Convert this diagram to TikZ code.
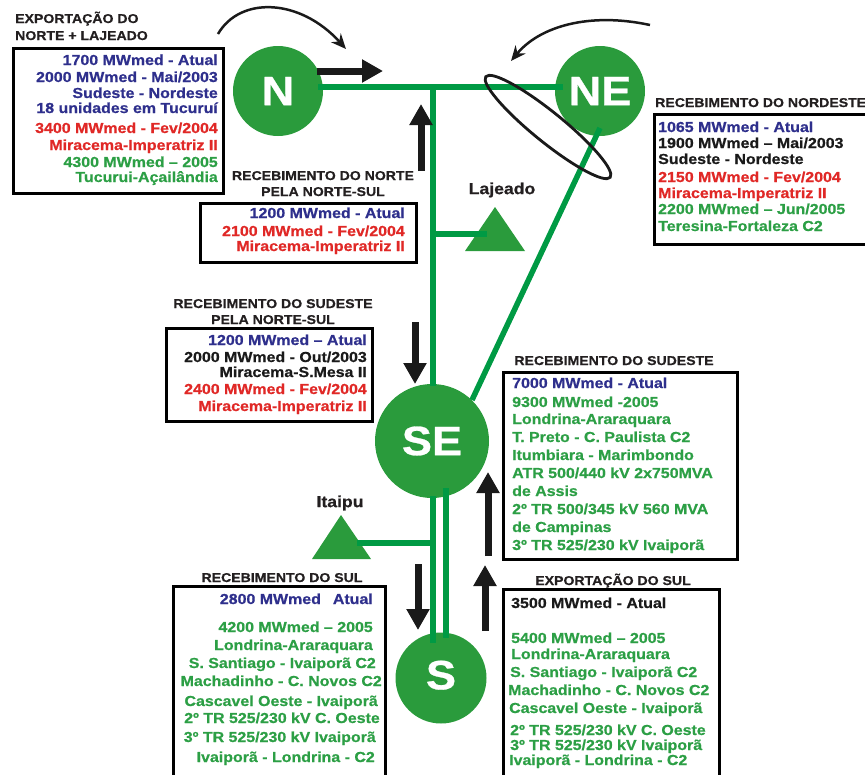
\documentclass[tikz,border=0pt]{standalone}
\usepackage{fontspec}
\setmainfont{Liberation Sans}[FakeStretch=1.1, BoldFeatures={FakeBold=0.7}]
\usepackage{pdfrender}
\usetikzlibrary{arrows.meta,shapes.geometric}
\definecolor{navy}{HTML}{2E2F8C}
\definecolor{redtxt}{HTML}{E02826}
\definecolor{greentxt}{HTML}{2C9F45}
\definecolor{hubgreen}{HTML}{2A9B3C}
\definecolor{wiregreen}{HTML}{009A44}
\definecolor{inkblack}{HTML}{1A1A1A}
\definecolor{titleblack}{HTML}{231F20}
\newcommand\hublabel[1]{\textpdfrender{TextRenderingMode=FillStroke,LineWidth=1.4,StrokeColor=inkblack,FillColor=white}{#1}}
\tikzset{
  bt/.style={font=\bfseries\fontsize{14.5}{16}\selectfont, inner sep=0pt},
  tt/.style={font=\bfseries\fontsize{12.8}{14}\selectfont, inner sep=0pt, text=titleblack},
  frame/.style={draw=black, line width=3pt, rectangle, inner sep=0pt, anchor=north west},
  hub/.style={circle, fill=hubgreen, inner sep=0pt, text=white, font=\bfseries\fontsize{41}{41}\selectfont},
  wire/.style={draw=wiregreen, line width=5.5pt},
  flow/.style={draw=inkblack, line width=7pt, -{Triangle[length=21pt,width=22pt]}},
  swing/.style={draw=inkblack, line width=2.5pt, -{Stealth[length=15pt,width=13pt]}},
}
\begin{document}
\begin{tikzpicture}[x=1pt,y=-1pt]
\useasboundingbox (0,0) rectangle (865,774);

% hubs
\node[hub, minimum size=90pt] (N) at (278,91) {\hublabel{N}};
\node[hub, minimum size=90pt] (NE) at (600,91) {\hublabel{NE}};
\node[hub, minimum size=114pt] (SE) at (432,441) {\hublabel{SE}};
\node[hub, minimum size=91pt] (S) at (441,678) {\raisebox{6pt}{\hublabel{S}}};

% wire coordinates
\coordinate (nw) at (318,87);
\coordinate (jn) at (433,87);
\coordinate (nee) at (563,87);
\coordinate (lajj) at (433,234);
\coordinate (lajt) at (487,234);
\coordinate (setop) at (433,386);
\coordinate (nediag) at (600,128);
\coordinate (sediag) at (472,400);
\coordinate (sebl) at (433,496);
\coordinate (sbl) at (433,643);
\coordinate (sebr) at (446,488);
\coordinate (sbr) at (446,638);
\coordinate (itj) at (433,543);
\coordinate (itt) at (357,543);

\draw[wire] (nw) -- (nee);
\draw[wire] (jn) -- (setop);
\draw[wire] (nediag) -- (sediag);
\draw[wire] (sebl) -- (sbl);
\draw[wire] (sebr) -- (sbr);

% generators
\coordinate (lajA) at (495,207);
\coordinate (lajL) at (465,251);
\coordinate (lajR) at (525,251);
\fill[hubgreen] (lajA) -- (lajL) -- (lajR) -- cycle;
\draw[wire] (lajj) -- (lajt);
\node[font=\bfseries\fontsize{16}{18}\selectfont, text=titleblack, inner sep=0pt] (lajlbl) at (502,190) {Lajeado};

\coordinate (itA) at (341,515);
\coordinate (itL) at (312,559);
\coordinate (itR) at (371,559);
\fill[hubgreen] (itA) -- (itL) -- (itR) -- cycle;
\draw[wire] (itj) -- (itt);
\node[font=\bfseries\fontsize{16}{18}\selectfont, text=titleblack, inner sep=0pt] (itlbl) at (340,503) {Itaipu};

% ellipse around N-NE / NE-SE crossing
\node[ellipse, draw=inkblack, line width=2.8pt, minimum width=160pt, minimum height=30pt, inner sep=0pt, rotate=-39] (loop) at (548,127) {};

% flow arrows
\coordinate (a1s) at (317,71);  \coordinate (a1e) at (383,71);
\coordinate (a2s) at (421,171); \coordinate (a2e) at (421,104);
\coordinate (a3s) at (415,322); \coordinate (a3e) at (415,384);
\coordinate (a4s) at (488,556); \coordinate (a4e) at (488,472);
\coordinate (a5s) at (418,564); \coordinate (a5e) at (418,630);
\coordinate (a6s) at (485,631); \coordinate (a6e) at (485,565);
\draw[flow] (a1s) -- (a1e);
\draw[flow] (a2s) -- (a2e);
\draw[flow] (a3s) -- (a3e);
\draw[flow] (a4s) -- (a4e);
\draw[flow] (a5s) -- (a5e);
\draw[flow] (a6s) -- (a6e);

% curved arrows
\coordinate (c1s) at (218,34); \coordinate (c1e) at (346,49);
\draw[swing] (c1s) .. controls (240,-4) and (300,-2) .. (c1e);
\coordinate (c2s) at (650,25); \coordinate (c2e) at (511,61);
\draw[swing] (c2s) .. controls (590,12) and (540,26) .. (c2e);

% ---------- Box 1: Exportacao do Norte + Lajeado
\node[tt, anchor=base west] (t1a) at (15,23) {EXPORTAÇÃO DO};
\node[tt, anchor=base west] (t1b) at (15,40) {NORTE + LAJEADO};
\node[frame, minimum width=210pt, minimum height=145pt] (b1) at (12,47) {};
\node[bt, anchor=base east, text=navy] (l1a) at (218,65) {1700 MWmed - Atual};
\node[bt, anchor=base east, text=navy] (l1b) at (218,82) {2000 MWmed - Mai/2003};
\node[bt, anchor=base east, text=navy] (l1c) at (218,98) {Sudeste - Nordeste};
\node[bt, anchor=base east, text=navy] (l1d) at (218,113) {18 unidades em Tucuruí};
\node[bt, anchor=base east, text=redtxt] (l1e) at (218,133) {3400 MWmed - Fev/2004};
\node[bt, anchor=base east, text=redtxt] (l1f) at (218,150) {Miracema-Imperatriz II};
\node[bt, anchor=base east, text=greentxt] (l1g) at (218,167) {4300 MWmed – 2005};
\node[bt, anchor=base east, text=greentxt] (l1h) at (218,182) {Tucurui-Açailândia};

% ---------- Box 2: Recebimento do Norte pela Norte-Sul
\node[tt, anchor=base] (t2a) at (323,180) {RECEBIMENTO DO NORTE};
\node[tt, anchor=base] (t2b) at (323,196) {PELA NORTE-SUL};
\node[frame, minimum width=216pt, minimum height=59pt] (b2) at (199,202) {};
\node[bt, anchor=base east, text=navy] (l2a) at (405,218) {1200 MWmed - Atual};
\node[bt, anchor=base east, text=redtxt] (l2b) at (405,236) {2100 MWmed - Fev/2004};
\node[bt, anchor=base east, text=redtxt] (l2c) at (405,251) {Miracema-Imperatriz II};

% ---------- Box 3: Recebimento do Sudeste pela Norte-Sul
\node[tt, anchor=base] (t3a) at (273,308) {RECEBIMENTO DO SUDESTE};
\node[tt, anchor=base] (t3b) at (273,324) {PELA NORTE-SUL};
\node[frame, minimum width=206pt, minimum height=93pt] (b3) at (165,327) {};
\node[bt, anchor=base east, text=navy] (l3a) at (367,345) {1200 MWmed – Atual};
\node[bt, anchor=base east, text=inkblack] (l3b) at (367,362) {2000 MWmed - Out/2003};
\node[bt, anchor=base east, text=inkblack] (l3c) at (367,377) {Miracema-S.Mesa II};
\node[bt, anchor=base east, text=redtxt] (l3d) at (367,394) {2400 MWmed - Fev/2004};
\node[bt, anchor=base east, text=redtxt] (l3e) at (367,411) {Miracema-Imperatriz II};

% ---------- Box 4: Recebimento do Nordeste
\node[tt, anchor=base west] (t4a) at (655,107) {RECEBIMENTO DO NORDESTE};
\node[frame, minimum width=216pt, minimum height=130pt] (b4) at (653,113) {};
\node[bt, anchor=base west, text=navy] (l4a) at (658,132) {1065 MWmed - Atual};
\node[bt, anchor=base west, text=inkblack] (l4b) at (658,148) {1900 MWmed – Mai/2003};
\node[bt, anchor=base west, text=inkblack] (l4c) at (658,164) {Sudeste - Nordeste};
\node[bt, anchor=base west, text=redtxt] (l4d) at (658,182) {2150 MWmed - Fev/2004};
\node[bt, anchor=base west, text=redtxt] (l4e) at (658,198) {Miracema-Imperatriz II};
\node[bt, anchor=base west, text=greentxt] (l4f) at (658,214) {2200 MWmed – Jun/2005};
\node[bt, anchor=base west, text=greentxt] (l4g) at (658,231) {Teresina-Fortaleza C2};

% ---------- Box 5: Recebimento do Sudeste
\node[tt, anchor=base] (t5a) at (614,365) {RECEBIMENTO DO SUDESTE};
\node[frame, minimum width=234pt, minimum height=187pt] (b5) at (502,371) {};
\node[bt, anchor=base west, text=navy] (l5a) at (512,388) {7000 MWmed - Atual};
\node[bt, anchor=base west, text=greentxt] (l5b) at (512,407) {9300 MWmed -2005};
\node[bt, anchor=base west, text=greentxt] (l5c) at (512,424) {Londrina-Araraquara};
\node[bt, anchor=base west, text=greentxt] (l5d) at (512,442) {T. Preto - C. Paulista C2};
\node[bt, anchor=base west, text=greentxt] (l5e) at (512,460) {Itumbiara - Marimbondo};
\node[bt, anchor=base west, text=greentxt] (l5f) at (512,478) {ATR 500/440 kV 2x750MVA};
\node[bt, anchor=base west, text=greentxt] (l5g) at (512,496) {de Assis};
\node[bt, anchor=base west, text=greentxt] (l5h) at (512,514) {2º TR 500/345 kV 560 MVA};
\node[bt, anchor=base west, text=greentxt] (l5i) at (512,532) {de Campinas};
\node[bt, anchor=base west, text=greentxt] (l5j) at (512,550) {3º TR 525/230 kV Ivaiporã};

% ---------- Box 6: Recebimento do Sul
\node[tt, anchor=base] (t6a) at (282,582) {RECEBIMENTO DO SUL};
\node[frame, minimum width=212pt, minimum height=200pt] (b6) at (172,585) {};
\node[bt, anchor=base east, text=navy] (l6a) at (373,604) {2800 MWmed\hspace{12pt}Atual};
\node[bt, anchor=base east, text=greentxt] (l6b) at (373,632) {4200 MWmed – 2005};
\node[bt, anchor=base east, text=greentxt] (l6c) at (373,650) {Londrina-Araraquara};
\node[bt, anchor=base east, text=greentxt] (l6d) at (376,668) {S. Santiago - Ivaiporã C2};
\node[bt, anchor=base east, text=greentxt] (l6e) at (382,686) {Machadinho - C. Novos C2};
\node[bt, anchor=base east, text=greentxt] (l6f) at (378,706) {Cascavel Oeste - Ivaiporã};
\node[bt, anchor=base east, text=greentxt] (l6g) at (380,723) {2º TR 525/230 kV C. Oeste};
\node[bt, anchor=base east, text=greentxt] (l6h) at (376,742) {3º TR 525/230 kV Ivaiporã};
\node[bt, anchor=base east, text=greentxt] (l6i) at (375,762) {Ivaiporã - Londrina - C2};

% ---------- Box 7: Exportacao do Sul
\node[tt, anchor=base] (t7a) at (613,585) {EXPORTAÇÃO DO SUL};
\node[frame, minimum width=216pt, minimum height=200pt] (b7) at (502,588) {};
\node[bt, anchor=base west, text=inkblack] (l7a) at (511,608) {3500 MWmed - Atual};
\node[bt, anchor=base west, text=greentxt] (l7b) at (511,643) {5400 MWmed – 2005};
\node[bt, anchor=base west, text=greentxt] (l7c) at (511,659) {Londrina-Araraquara};
\node[bt, anchor=base west, text=greentxt] (l7d) at (510,677) {S. Santiago - Ivaiporã C2};
\node[bt, anchor=base west, text=greentxt] (l7e) at (508,695) {Machadinho - C. Novos C2};
\node[bt, anchor=base west, text=greentxt] (l7f) at (509,713) {Cascavel Oeste - Ivaiporã};
\node[bt, anchor=base west, text=greentxt] (l7g) at (510,735) {2º TR 525/230 kV C. Oeste};
\node[bt, anchor=base west, text=greentxt] (l7h) at (510,750) {3º TR 525/230 kV Ivaiporã};
\node[bt, anchor=base west, text=greentxt] (l7i) at (509,765) {Ivaiporã - Londrina - C2};
\end{tikzpicture}
\end{document}
